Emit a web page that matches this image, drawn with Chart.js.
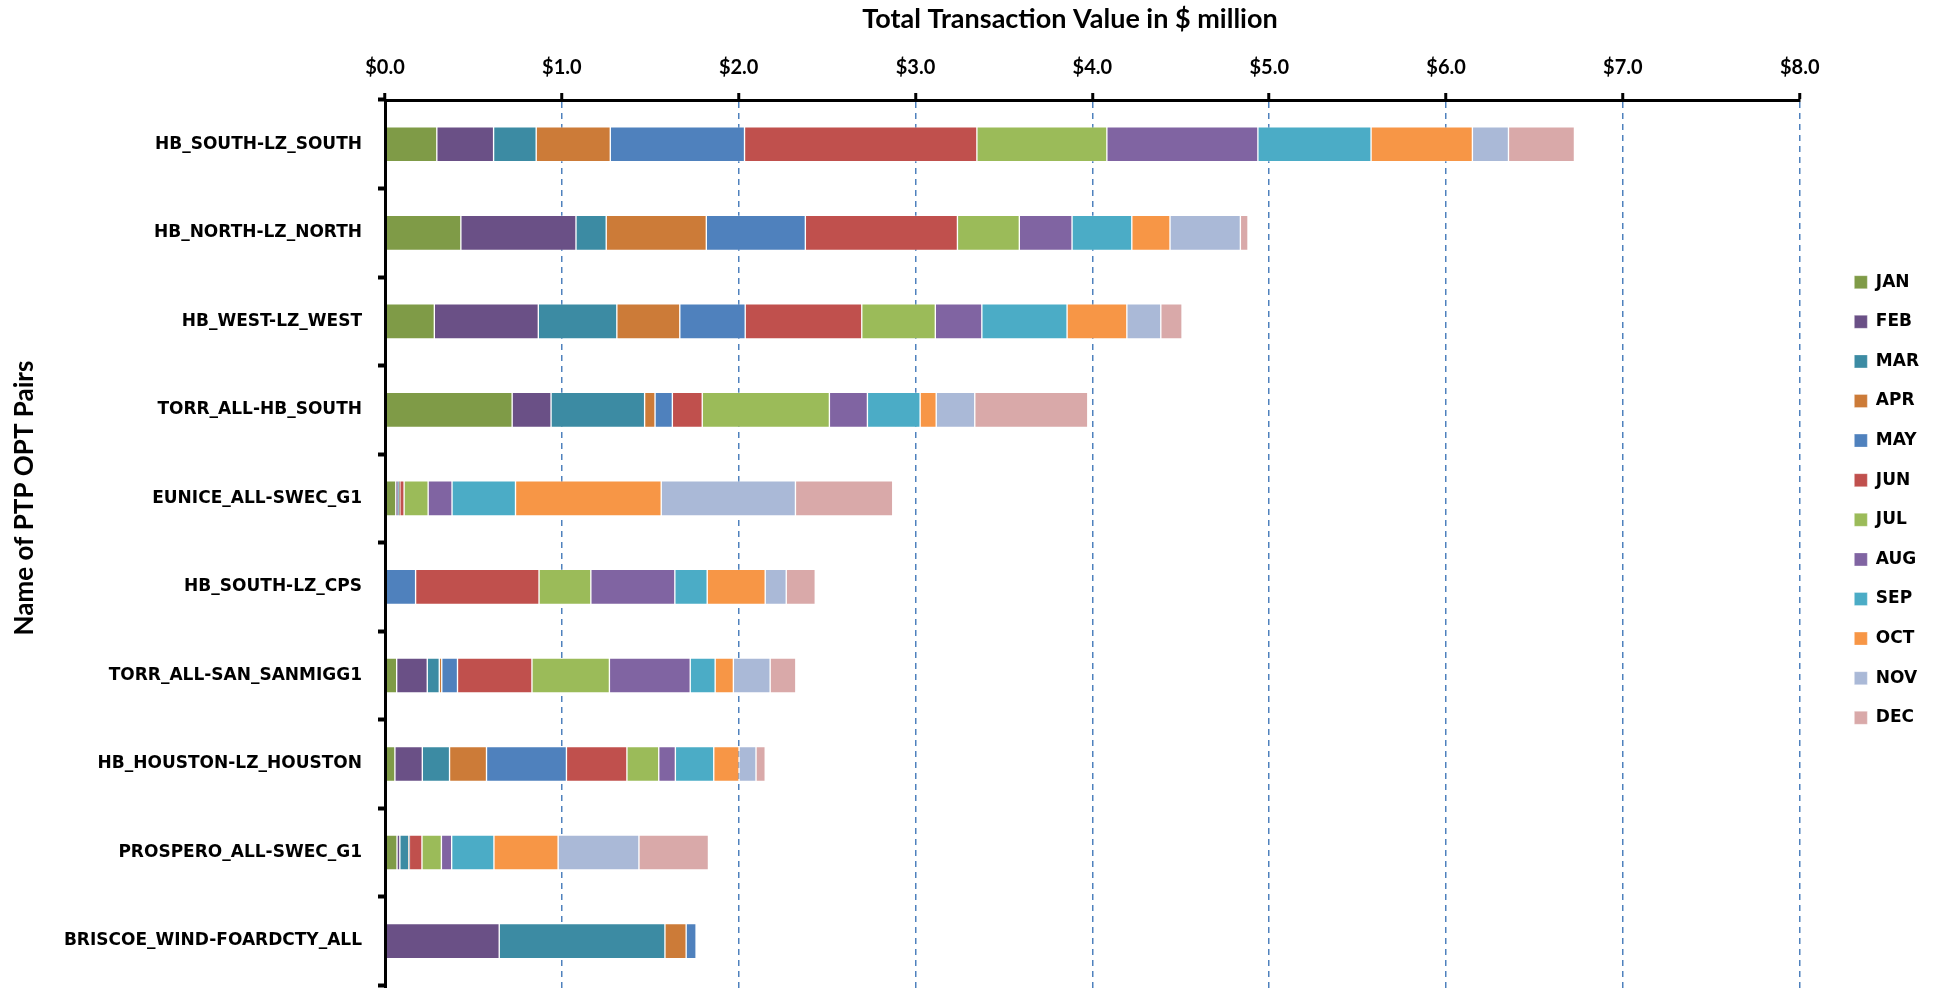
<!DOCTYPE html>
<html>
<head>
<meta charset="utf-8">
<script src="https://cdn.jsdelivr.net/npm/chart.js@4/dist/chart.umd.min.js"></script>
<style>
  html, body { margin: 0; padding: 0; background: #fff; }
  #wrap { width: 1937px; height: 988px; }
</style>
</head>
<body>
<div id="wrap"><canvas id="chart" width="1937" height="988"></canvas></div>
<script>
// ─── data: PTP OPT pairs and monthly values ($ million) ─────────────
const pairs = [
  "HB_SOUTH-LZ_SOUTH", "HB_NORTH-LZ_NORTH", "HB_WEST-LZ_WEST", "TORR_ALL-HB_SOUTH",
  "EUNICE_ALL-SWEC_G1", "HB_SOUTH-LZ_CPS", "TORR_ALL-SAN_SANMIGG1",
  "HB_HOUSTON-LZ_HOUSTON", "PROSPERO_ALL-SWEC_G1", "BRISCOE_WIND-FOARDCTY_ALL"
];
const months = ["JAN","FEB","MAR","APR","MAY","JUN","JUL","AUG","SEP","OCT","NOV","DEC"];

const jan = [0.293, 0.429, 0.279, 0.719, 0.061, 0.000, 0.066, 0.056, 0.068, 0.005];
const feb = [0.321, 0.651, 0.588, 0.220, 0.014, 0.000, 0.173, 0.155, 0.016, 0.641];
const mar = [0.241, 0.171, 0.444, 0.529, 0.005, 0.000, 0.068, 0.154, 0.050, 0.937];
const apr = [0.419, 0.566, 0.356, 0.059, 0.002, 0.000, 0.014, 0.209, 0.002, 0.120];
const may = [0.759, 0.560, 0.370, 0.098, 0.002, 0.173, 0.089, 0.452, 0.002, 0.056];
const jun = [1.314, 0.860, 0.659, 0.169, 0.024, 0.698, 0.421, 0.342, 0.071, 0.000];
const jul = [0.735, 0.350, 0.416, 0.719, 0.136, 0.293, 0.438, 0.180, 0.110, 0.000];
const aug = [0.854, 0.298, 0.263, 0.215, 0.135, 0.475, 0.457, 0.094, 0.058, 0.000];
const sep = [0.640, 0.338, 0.482, 0.298, 0.359, 0.183, 0.141, 0.217, 0.239, 0.000];
const oct = [0.573, 0.216, 0.338, 0.091, 0.824, 0.328, 0.103, 0.143, 0.363, 0.000];
const nov = [0.204, 0.398, 0.192, 0.218, 0.759, 0.119, 0.208, 0.096, 0.457, 0.000];
const dec = [0.373, 0.043, 0.120, 0.639, 0.550, 0.164, 0.145, 0.052, 0.393, 0.000];

const xTicks = [0, 1, 2, 3, 4, 5, 6, 7, 8];
const xTitle = "Total Transaction Value in $ million";
const yTitle = "Name of PTP OPT Pairs";

const monthValues = [jan, feb, mar, apr, may, jun, jul, aug, sep, oct, nov, dec];
const monthColors = [
  "#7f9b47", "#6a5086", "#3c8ba3", "#cc7b38", "#4f81bd", "#c0504d",
  "#9bbb59", "#8064a2", "#4bacc6", "#f79646", "#aab9d7", "#d9a9a9"
];

// ─── build datasets ─────────────────────────────
const datasets = months.map((m, k) => ({
  label: m,
  data: monthValues[k].map((v, i) => ({ x: v, y: i })),
  backgroundColor: monthColors[k],
  borderColor: "rgba(255,255,255,0.3)",
  borderWidth: 1,
  borderSkipped: false,
  barThickness: 35
}));

const titleFamily = "Lato, 'Liberation Sans', sans-serif";
const labelFont = { family: "'DejaVu Sans', sans-serif", size: 17, weight: "bold" };

// axis titles, placed like the original (slightly off-centre)
const axisTitles = {
  id: "axisTitles",
  afterDraw(chart) {
    const ctx = chart.ctx;
    ctx.save();
    ctx.fillStyle = "#000";
    ctx.textAlign = "center";
    ctx.textBaseline = "middle";
    ctx.font = "bold 27px " + titleFamily;
    ctx.fillText(xTitle, 1070, 19);
    ctx.translate(25, 498);
    ctx.rotate(-Math.PI / 2);
    ctx.font = "bold 26px " + titleFamily;
    ctx.fillText(yTitle, 0, 0);
    ctx.restore();
  }
};

new Chart(document.getElementById("chart").getContext("2d"), {
  type: "bar",
  data: { datasets },
  plugins: [axisTitles],
  options: {
    indexAxis: "y",
    responsive: false,
    animation: false,
    devicePixelRatio: 1,
    layout: { padding: { left: 0, right: 8, top: 0, bottom: 0 } },
    scales: {
      x: {
        type: "linear",
        position: "top",
        stacked: true,
        min: 0,
        max: 8,
        afterBuildTicks: s => { s.ticks = xTicks.map(v => ({ value: v })); },
        afterFit: s => { s.height = 100; },
        ticks: {
          color: "#000",
          padding: 13,
          font: { family: titleFamily, size: 20, weight: "bold" },
          callback: v => "$" + Number(v).toFixed(1)
        },
        grid: {
          color: "#4f81bd",
          lineWidth: 1.5,
          tickColor: "#000",
          tickLength: 7,
          tickWidth: 3,
          tickBorderDash: []
        },
        border: { display: true, color: "#000", width: 3, dash: [6, 5], z: 1 }
      },
      y: {
        type: "linear",
        reverse: true,
        stacked: true,
        offset: false,
        min: -0.5,
        max: 9.53,
        afterFit: s => { s.width = 385; s.paddingTop = 0; s.paddingBottom = 0; },
        ticks: {
          stepSize: 1,
          includeBounds: false,
          autoSkip: false,
          color: "#000",
          padding: 16,
          font: labelFont,
          callback: v => (Number.isInteger(v) && pairs[v] !== undefined) ? pairs[v] : ""
        },
        grid: {
          offset: true,
          drawOnChartArea: false,
          tickColor: "#000",
          tickLength: 7,
          tickWidth: 4
        },
        border: { display: true, color: "#000", width: 3, z: 1 }
      },
      gap: {
        type: "linear",
        position: "right",
        display: true,
        afterFit: s => { s.width = 32; s.paddingTop = 0; s.paddingBottom = 0; },
        ticks: { display: false },
        grid: { display: false },
        border: { display: false }
      }
    },
    plugins: {
      legend: {
        position: "right",
        align: "center",
        title: { display: true, text: "", padding: 0, font: { size: 10, lineHeight: 1.2 } },
        labels: {
          color: "#000",
          font: labelFont,
          boxWidth: 13,
          boxHeight: 13,
          padding: 22.6
        }
      },
      tooltip: { enabled: false }
    }
  }
});
</script>
</body>
</html>
